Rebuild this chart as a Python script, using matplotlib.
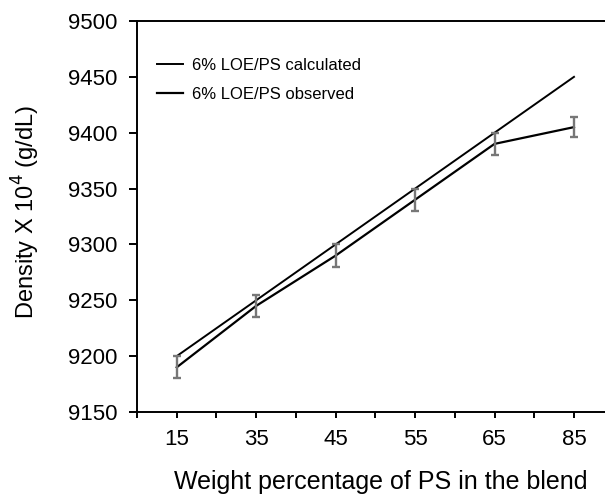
import matplotlib

matplotlib.use("Agg")
import matplotlib.pyplot as plt
import numpy as np

# data
categories = ["15", "35", "45", "55", "65", "85"]
calculated = [9200, 9250, 9300, 9350, 9400, 9450]
observed = [9190, 9245, 9290, 9340, 9390, 9405]
observed_err = [10, 10, 10, 10, 10, 9]

plt.rcParams["font.family"] = ["Liberation Sans", "DejaVu Sans"]

W, H = 605, 497
fig = plt.figure(figsize=(W / 100, H / 100), dpi=100, facecolor="white")
# axes box in pixel coordinates: left 137, top 21, bottom 412, runs off the right edge
ax = fig.add_axes([137 / W, (H - 412) / H, (W - 137) / W, (412 - 21) / H])

x = np.arange(len(categories))

ax.plot(x, calculated, color="black", linewidth=1.4, label="6% LOE/PS calculated")
ax.plot(x, observed, color="black", linewidth=1.6, label="6% LOE/PS observed")
ax.errorbar(x, observed, yerr=observed_err, fmt="none", ecolor="#777777",
            elinewidth=1.7, capsize=3, capthick=1.7, zorder=3)

ax.set_xlim(-0.5, (W - 177) / 79.4)
ax.set_ylim(9150, 9500)
ax.set_yticks(np.arange(9150, 9501, 50))
ax.set_xticks(x)
ax.set_xticklabels(categories)
ax.set_xticks(np.arange(-0.5, len(categories) - 0.6, 1.0), minor=True)

ax.spines["right"].set_visible(False)
for s in ["left", "bottom", "top"]:
    ax.spines[s].set_linewidth(1.4)

ax.tick_params(axis="both", which="major", direction="out", width=1.4,
               labelsize=16, colors="black")
ax.tick_params(axis="y", length=6, pad=8)
ax.tick_params(axis="x", length=4, pad=8)
ax.tick_params(axis="x", which="minor", direction="out", length=4, width=1.4)

ax.set_ylabel("Density X 10$^4$ (g/dL)", fontsize=17)
ax.yaxis.set_label_coords((42 - 137) / (W - 137), 0.511)
ax.set_xlabel("Weight percentage of PS in the blend", fontsize=18)
ax.xaxis.set_label_coords((381 - 137) / (W - 137), -(482 - 412) / (412 - 21))
ax.xaxis.label.set_verticalalignment("center")

leg = ax.legend(loc="upper left", bbox_to_anchor=(0.01, 0.945), frameon=False,
                fontsize=12, handlelength=1.55, handletextpad=0.55, labelspacing=0.85)

fig.savefig("out.png", dpi=100, facecolor="white")
